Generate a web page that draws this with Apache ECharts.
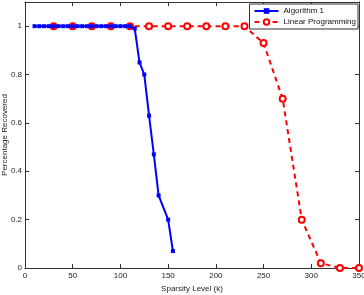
<!DOCTYPE html>
<html>
<head>
<meta charset="utf-8">
<script src="https://cdn.jsdelivr.net/npm/echarts@6/dist/echarts.min.js"></script>
<style>
  html, body { margin: 0; padding: 0; background: #fff; }
  #chart { width: 364px; height: 295px; }
</style>
</head>
<body>
<div id="chart"></div>
<script>
// Algorithm 1
var algoK = [10, 15, 20, 25, 30, 35, 40, 45, 50, 55, 60, 65, 70, 75, 80, 85, 90, 95, 100, 105, 110, 115, 120, 125, 130, 135, 140, 150, 155]
var algoVals = [1, 1, 1, 1, 1, 1, 1, 1, 1, 1, 1, 1, 1, 1, 1, 1, 1, 1, 1, 1, 1, 0.99, 0.85, 0.80, 0.63, 0.47, 0.30, 0.20, 0.07]
// Linear Programming
var lpK = [30, 50, 70, 90, 110, 130, 150, 170, 190, 210, 230, 250, 270, 290, 310, 330, 350]
var lpVals = [1, 1, 1, 1, 1, 1, 1, 1, 1, 1, 1, 0.93, 0.70, 0.20, 0.02, 0, 0]
var yTicks = [0, 0.2, 0.4, 0.6, 0.8, 1]

function pairs(xs, ys) {
  return xs.map(function (x, i) { return [x, ys[i]] })
}

var font = 'Liberation Sans, Arial, sans-serif'
var chart = echarts.init(document.getElementById('chart'))

var xCommon = {
  type: 'value',
  min: 0,
  max: 350,
  interval: 50,
  axisLine: { show: true, onZero: false, lineStyle: { color: '#333', width: 1 } },
  axisTick: { show: true, inside: true, length: 4, lineStyle: { color: '#333' } },
  splitLine: { show: false }
}
var yCommon = {
  type: 'value',
  min: 0,
  max: 1.1,
  axisLine: { show: true, onZero: false, lineStyle: { color: '#333', width: 1 } },
  axisTick: { show: true, inside: true, length: 4, customValues: yTicks, lineStyle: { color: '#333' } },
  splitLine: { show: false }
}

chart.setOption({
  animation: false,
  textStyle: { fontFamily: font },
  grid: { left: 25, right: 5, top: 2, bottom: 27, outerBoundsMode: 'none', containLabel: false },
  legend: {
    right: 6,
    top: 4,
    orient: 'vertical',
    backgroundColor: '#fff',
    borderColor: '#333',
    borderWidth: 1,
    borderRadius: 0,
    padding: [3, 2, 3, 4],
    itemGap: 3,
    itemWidth: 24,
    itemHeight: 7,
    textStyle: { fontSize: 8, color: '#111', fontFamily: font },
    data: ['Algorithm 1', 'Linear Programming']
  },
  xAxis: [
    Object.assign({}, xCommon, {
      position: 'bottom',
      name: 'Sparsity Level (k)',
      nameLocation: 'middle',
      nameGap: 12,
      nameTextStyle: { fontSize: 8, color: '#222' },
      axisLabel: { fontSize: 8, color: '#222', margin: 4 }
    }),
    Object.assign({}, xCommon, {
      position: 'top',
      axisLabel: { show: false }
    })
  ],
  yAxis: [
    Object.assign({}, yCommon, {
      position: 'left',
      name: 'Percentage Recovered',
      nameLocation: 'middle',
      nameGap: 16,
      nameMoveOverlap: false,
      nameTextStyle: { fontSize: 8, color: '#222' },
      axisLabel: { fontSize: 8, color: '#222', margin: 3, customValues: yTicks }
    }),
    Object.assign({}, yCommon, {
      position: 'right',
      axisLabel: { show: false }
    })
  ],
  series: [
    {
      name: 'Algorithm 1',
      type: 'line',
      data: pairs(algoK, algoVals),
      symbol: 'rect',
      symbolSize: 4,
      z: 3,
      lineStyle: { color: '#0000ff', width: 2 },
      itemStyle: { color: '#0000ff' }
    },
    {
      name: 'Linear Programming',
      type: 'line',
      data: pairs(lpK, lpVals),
      symbol: 'emptyCircle',
      symbolSize: 6,
      z: 2,
      lineStyle: { color: '#ff0000', width: 2, type: [5, 4] },
      itemStyle: { color: '#ff0000', borderColor: '#ff0000', borderWidth: 1.5 }
    }
  ]
})
</script>
</body>
</html>
